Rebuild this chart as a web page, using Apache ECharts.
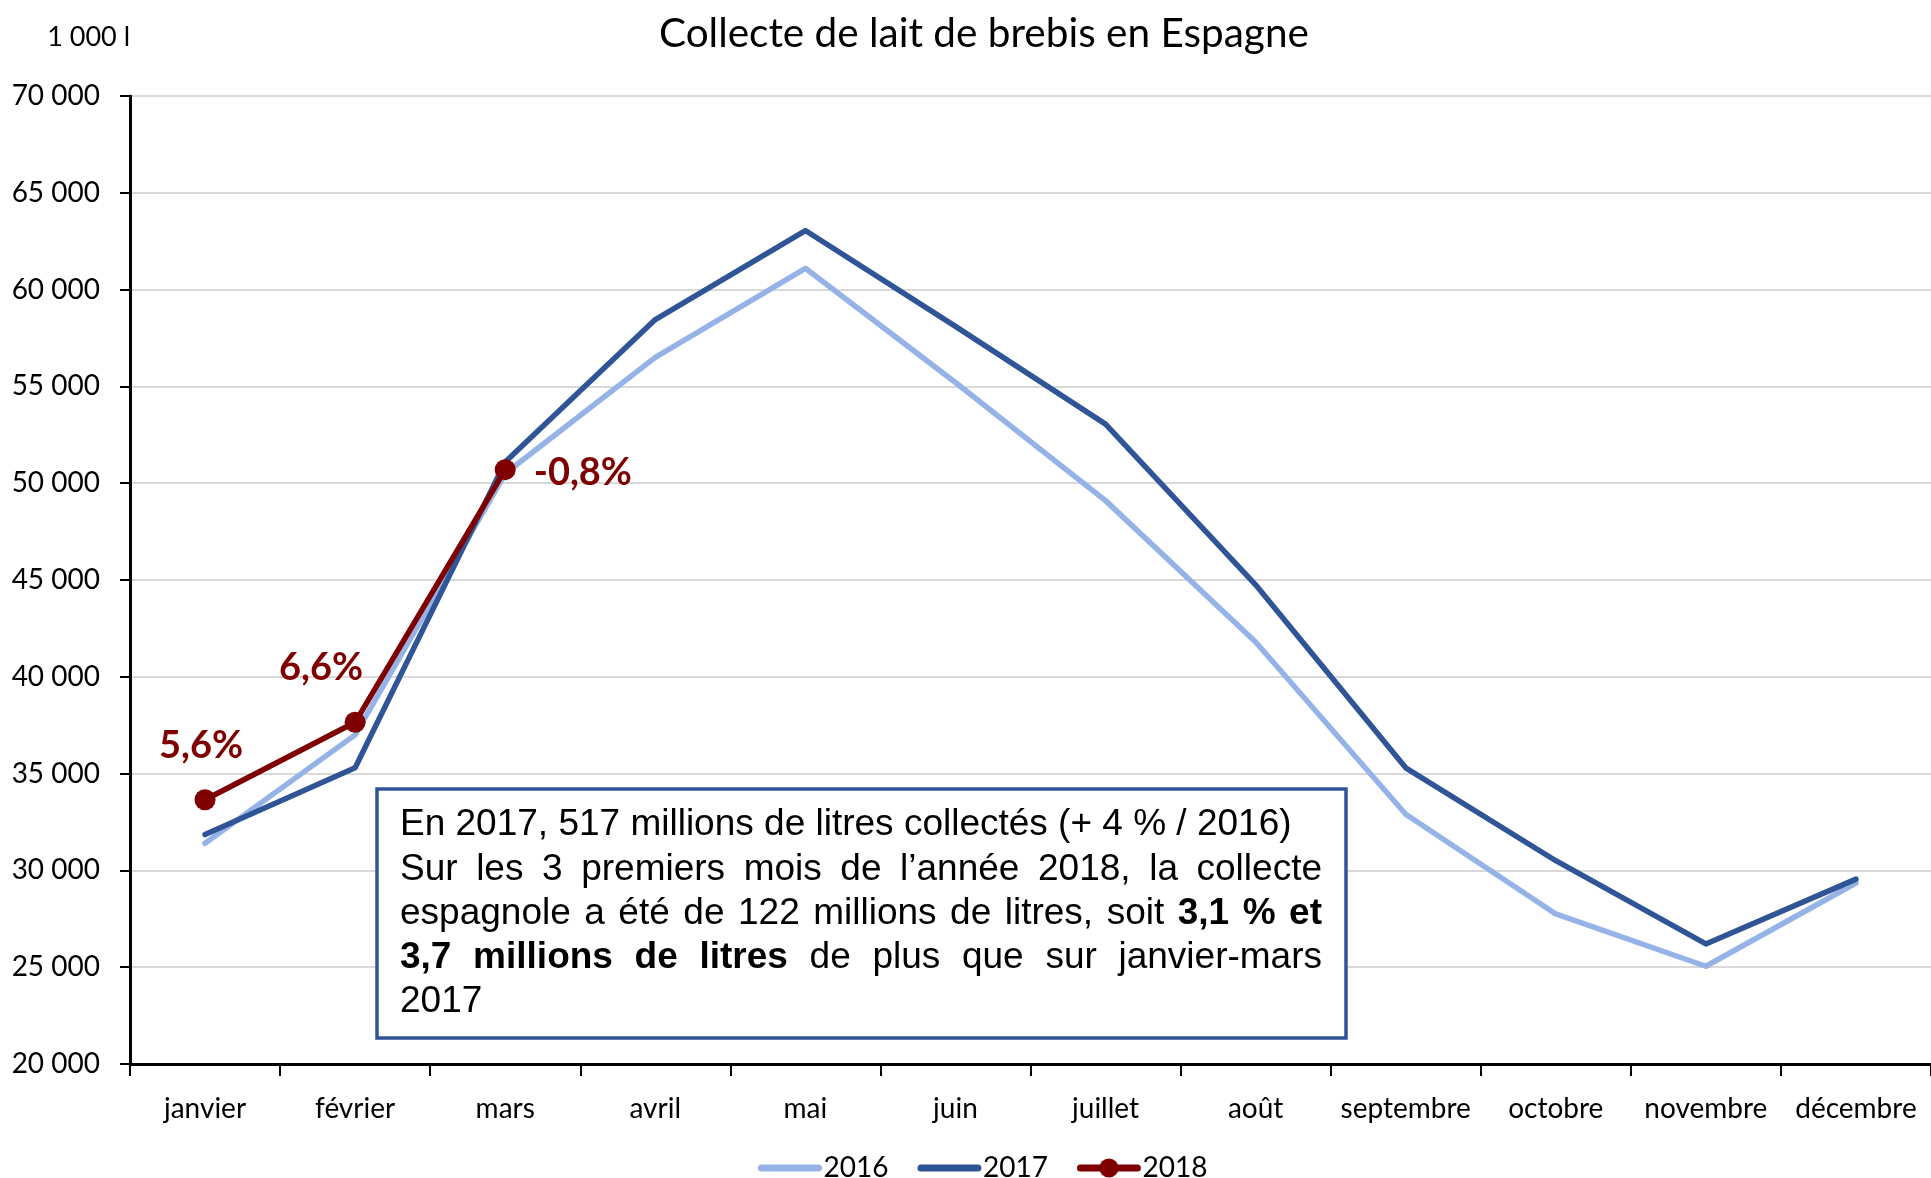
<!DOCTYPE html>
<html>
<head>
<meta charset="utf-8">
<script src="https://cdn.jsdelivr.net/npm/echarts@6/dist/echarts.min.js"></script>
<style>
  html, body { margin: 0; padding: 0; background: #fff; }
  #chart { width: 1931px; height: 1178px; }
</style>
</head>
<body>
<div id="chart"></div>
<script>
// months on the x axis
const months = ['janvier', 'février', 'mars', 'avril', 'mai', 'juin', 'juillet', 'août', 'septembre', 'octobre', 'novembre', 'décembre'];

// collecte mensuelle, en 1 000 litres
const collecte2016 = [31400, 37000, 50500, 56500, 61100, 55200, 49100, 41800, 32900, 27750, 25050, 29350];
const collecte2017 = [31850, 35300, 51100, 58450, 63050, 58100, 53050, 44750, 35300, 30500, 26200, 29550];
const collecte2018 = [33650, 37650, 50700];

// variation 2018 / 2017 shown next to the points
const variation2018 = ['5,6%', '6,6%', '-0,8%'];

const yTicks = { min: 20000, max: 70000, step: 5000 };

// text of the comment box, line by line ([text, bold])
const boxLines = [
    { justify: false, parts: [['En 2017, 517 millions de litres collectés (+ 4 % / 2016)', false]] },
    { justify: true,  parts: [['Sur les 3 premiers mois de l’année 2018, la collecte', false]] },
    { justify: true,  parts: [['espagnole a été de 122 millions de litres, soit', false], ['3,1 % et', true]] },
    { justify: true,  parts: [['3,7 millions de litres', true], ['de plus que sur janvier-mars', false]] },
    { justify: false, parts: [['2017', false]] }
];

const LABEL_FONT = 'Lato';
const BOX_FONT = '"Liberation Sans", Arial, sans-serif';
const BOX_SIZE = 37;

const chart = echarts.init(document.getElementById('chart'));

function spaced(v) {
    return String(v).replace(/\B(?=(\d{3})+(?!\d))/g, ' ');
}

// build justified words of the comment box as graphic texts
function buildBoxText(left, right, firstY, lineStep) {
    const ctx = document.createElement('canvas').getContext('2d');
    const out = [];
    boxLines.forEach((line, li) => {
        const words = [];
        line.parts.forEach(([txt, bold]) => {
            txt.split(' ').forEach((w) => { if (w) words.push({ w: w, bold: bold }); });
        });
        let total = 0;
        words.forEach((wd) => {
            ctx.font = (wd.bold ? 'bold ' : '') + BOX_SIZE + 'px ' + BOX_FONT;
            wd.width = ctx.measureText(wd.w).width;
            total += wd.width;
        });
        ctx.font = BOX_SIZE + 'px ' + BOX_FONT;
        const space = ctx.measureText(' ').width;
        const gap = (line.justify && words.length > 1) ? (right - left - total) / (words.length - 1) : space;
        let x = left;
        words.forEach((wd) => {
            out.push({
                type: 'text',
                x: x,
                y: firstY + li * lineStep,
                z: 101,
                style: {
                    text: wd.w,
                    fontFamily: BOX_FONT,
                    fontSize: BOX_SIZE,
                    fontWeight: wd.bold ? 'bold' : 'normal',
                    fill: '#000',
                    verticalAlign: 'middle'
                }
            });
            x += wd.width + gap;
        });
    });
    return out;
}

const labelPlacement = [
    { position: 'top', distance: 24, offset: [-4, 0] },
    { position: 'top', distance: 25, offset: [-34, 0] },
    { position: 'right', distance: 18, offset: [0, 3] }
];

const option = {
    animation: false,
    backgroundColor: '#fff',
    title: {
        text: 'Collecte de lait de brebis en Espagne',
        left: 654,
        top: 8,
        textStyle: { fontFamily: LABEL_FONT, fontSize: 40.5, fontWeight: 'normal', color: '#000' }
    },
    legend: {
        data: [
            { name: '2016', itemStyle: { opacity: 0 }, lineStyle: { width: 7, cap: 'round' } },
            { name: '2017', itemStyle: { opacity: 0 }, lineStyle: { width: 7, cap: 'round' } },
            { name: '2018', lineStyle: { width: 7, cap: 'round' } }
        ],
        left: 753,
        top: 1149,
        itemWidth: 57,
        itemHeight: 24,
        itemGap: 29,
        textStyle: { fontFamily: LABEL_FONT, fontSize: 28, color: '#000' }
    },
    grid: {
        left: 130,
        right: -3,
        top: 96,
        bottom: 114
    },
    xAxis: {
        type: 'category',
        data: months,
        boundaryGap: true,
        axisLine: { lineStyle: { color: '#000', width: 3 } },
        axisTick: { show: true, length: 12, lineStyle: { color: '#000', width: 2 } },
        axisLabel: { fontFamily: LABEL_FONT, fontSize: 28, color: '#000', margin: 31, interval: 0 }
    },
    yAxis: {
        type: 'value',
        min: yTicks.min,
        max: yTicks.max,
        interval: yTicks.step,
        name: '1 000 l',
        nameLocation: 'end',
        nameGap: 59,
        nameTextStyle: { fontFamily: LABEL_FONT, fontSize: 27, color: '#000', align: 'right', verticalAlign: 'middle' },
        axisLine: { show: true, lineStyle: { color: '#000', width: 3 } },
        axisTick: { show: true, length: 10, lineStyle: { color: '#000', width: 2 } },
        axisLabel: { fontFamily: LABEL_FONT, fontSize: 28, color: '#000', margin: 30, formatter: spaced },
        splitLine: { show: true, lineStyle: { color: '#d9d9d9', width: 2 } }
    },
    series: [
        {
            name: '2016',
            type: 'line',
            data: collecte2016,
            symbol: 'none',
            color: '#95b3e7',
            lineStyle: { width: 5.5, cap: 'round', join: 'round' }
        },
        {
            name: '2017',
            type: 'line',
            data: collecte2017,
            symbol: 'none',
            color: '#2f5597',
            lineStyle: { width: 5.5, cap: 'round', join: 'round' }
        },
        {
            name: '2018',
            type: 'line',
            data: collecte2018.map((v, i) => ({
                value: v,
                label: Object.assign({ formatter: variation2018[i] }, labelPlacement[i])
            })),
            symbol: 'circle',
            symbolSize: 21,
            color: '#7f0000',
            lineStyle: { width: 5.5, cap: 'round', join: 'round' },
            label: {
                show: true,
                fontFamily: LABEL_FONT,
                fontSize: 38,
                fontWeight: 'bold',
                color: '#7f0000'
            }
        }
    ],
    graphic: [
        {
            type: 'rect',
            z: 100,
            shape: { x: 377, y: 789, width: 969, height: 249 },
            style: { fill: '#fff', stroke: '#2f5597', lineWidth: 3.5 }
        }
    ].concat(buildBoxText(400, 1322, 825, 44.3))
};

chart.setOption(option);
</script>
</body>
</html>
